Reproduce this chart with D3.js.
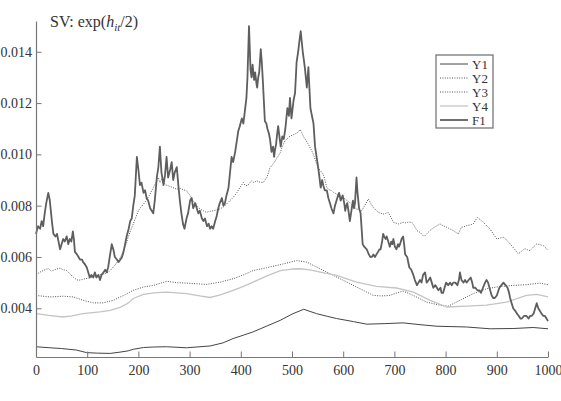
<!DOCTYPE html>
<html>
<head>
<meta charset="utf-8">
<script src="https://cdn.jsdelivr.net/npm/d3@7"></script>
<style>
  body { margin: 0; background: #fff; }
  svg text { font-family: "Liberation Serif", "Times New Roman", serif; fill: #333; }
</style>
</head>
<body>
<div id="chart"></div>
<script>
// series values as [t, value]
var y1Data = [[0,0.00250],[27,0.00246],[50,0.00243],[79,0.00237],[99,0.00227],[120,0.00225],[145,0.00224],[164,0.00229],[180,0.00234],[190,0.00240],[210,0.00247],[230,0.00249],[255,0.00250],[294,0.00246],[340,0.00253],[365,0.00265],[385,0.00282],[405,0.00295],[424,0.00308],[450,0.00330],[477,0.00353],[502,0.00379],[523,0.00396],[548,0.00379],[570,0.00368],[587,0.00360],[620,0.00348],[646,0.00338],[680,0.00340],[717,0.00343],[750,0.00336],[783,0.00330],[841,0.00327],[887,0.00320],[932,0.00321],[971,0.00325],[1000,0.00320]];

var y2Data = [[0,0.00530],[7,0.00540],[14,0.00547],[20,0.00552],[24,0.00555],[30,0.00545],[34,0.00548],[40,0.00553],[47,0.00556],[53,0.00550],[60,0.00547],[66,0.00535],[73,0.00521],[79,0.00512],[83,0.00509],[90,0.00512],[96,0.00515],[103,0.00518],[109,0.00521],[116,0.00525],[122,0.00528],[129,0.00532],[135,0.00535],[141,0.00540],[148,0.00554],[155,0.00570],[161,0.00586],[166,0.00603],[171,0.00625],[176,0.00650],[180,0.00677],[185,0.00705],[190,0.00729],[195,0.00755],[200,0.00780],[205,0.00795],[210,0.00806],[215,0.00820],[219,0.00832],[224,0.00850],[229,0.00870],[234,0.00890],[239,0.00910],[242,0.00890],[246,0.00905],[249,0.00890],[255,0.00880],[262,0.00875],[268,0.00870],[275,0.00864],[281,0.00868],[288,0.00862],[294,0.00858],[301,0.00840],[307,0.00819],[314,0.00800],[320,0.00787],[327,0.00780],[333,0.00774],[340,0.00778],[346,0.00780],[353,0.00784],[359,0.00787],[366,0.00795],[372,0.00806],[379,0.00820],[385,0.00832],[392,0.00850],[398,0.00870],[405,0.00890],[408,0.00880],[413,0.00877],[417,0.00888],[421,0.00897],[426,0.00890],[431,0.00897],[437,0.00892],[444,0.00890],[447,0.00900],[451,0.00910],[457,0.00948],[462,0.00960],[467,0.00974],[472,0.00990],[477,0.01006],[481,0.01030],[486,0.01052],[491,0.01062],[496,0.01071],[501,0.01075],[506,0.01080],[511,0.01085],[516,0.01097],[519,0.01085],[522,0.01071],[527,0.01055],[532,0.01039],[537,0.01020],[542,0.01000],[546,0.00975],[551,0.00948],[556,0.00935],[561,0.00923],[565,0.00895],[568,0.00870],[573,0.00862],[578,0.00858],[582,0.00850],[587,0.00845],[593,0.00840],[600,0.00832],[606,0.00822],[613,0.00812],[619,0.00800],[626,0.00787],[631,0.00784],[636,0.00780],[642,0.00800],[649,0.00826],[654,0.00808],[659,0.00793],[664,0.00782],[669,0.00774],[674,0.00770],[678,0.00767],[683,0.00770],[688,0.00774],[693,0.00755],[698,0.00735],[703,0.00732],[708,0.00729],[713,0.00732],[717,0.00735],[722,0.00733],[728,0.00736],[734,0.00735],[739,0.00720],[744,0.00703],[750,0.00696],[756,0.00683],[760,0.00683],[766,0.00696],[773,0.00709],[780,0.00718],[789,0.00729],[795,0.00722],[802,0.00716],[808,0.00710],[815,0.00703],[820,0.00696],[825,0.00690],[831,0.00716],[836,0.00718],[841,0.00722],[848,0.00725],[854,0.00729],[858,0.00742],[862,0.00754],[868,0.00745],[874,0.00735],[880,0.00722],[887,0.00709],[893,0.00690],[900,0.00670],[907,0.00674],[913,0.00677],[920,0.00665],[926,0.00651],[934,0.00632],[942,0.00612],[948,0.00622],[955,0.00632],[960,0.00628],[965,0.00625],[971,0.00638],[978,0.00651],[984,0.00648],[991,0.00644],[996,0.00635],[1000,0.00625]];

var y3Data = [[0,0.00450],[27,0.00444],[53,0.00447],[73,0.00444],[92,0.00431],[112,0.00421],[131,0.00421],[151,0.00431],[171,0.00450],[190,0.00470],[210,0.00483],[229,0.00489],[255,0.00505],[275,0.00500],[294,0.00498],[333,0.00493],[360,0.00502],[385,0.00515],[405,0.00530],[424,0.00547],[450,0.00558],[477,0.00570],[509,0.00586],[529,0.00580],[555,0.00554],[581,0.00528],[607,0.00502],[633,0.00476],[659,0.00450],[675,0.00448],[691,0.00450],[705,0.00460],[717,0.00467],[737,0.00450],[763,0.00424],[789,0.00412],[805,0.00408],[828,0.00431],[854,0.00457],[880,0.00476],[906,0.00485],[932,0.00489],[958,0.00492],[984,0.00498],[1000,0.00492]];

var y4Data = [[0,0.00379],[25,0.00372],[53,0.00366],[70,0.00370],[92,0.00379],[125,0.00386],[145,0.00392],[164,0.00403],[180,0.00420],[190,0.00438],[210,0.00454],[230,0.00460],[255,0.00463],[294,0.00457],[320,0.00448],[340,0.00442],[360,0.00452],[385,0.00470],[405,0.00485],[424,0.00502],[450,0.00525],[477,0.00547],[500,0.00553],[516,0.00554],[535,0.00550],[555,0.00541],[587,0.00528],[626,0.00502],[665,0.00485],[704,0.00479],[737,0.00463],[770,0.00431],[802,0.00405],[841,0.00408],[880,0.00412],[919,0.00424],[958,0.00450],[978,0.00454],[1000,0.00444]];

var f1Data = [[0,0.0069],[4,0.0072],[8,0.0071],[11,0.0074],[14,0.0072],[17,0.0077],[20,0.0081],[24,0.0085],[27,0.0082],[31,0.0074],[34,0.0069],[38,0.0068],[41,0.0069],[44,0.0066],[47,0.0063],[50,0.0065],[53,0.0067],[56,0.0066],[60,0.0068],[63,0.0065],[66,0.0067],[69,0.0066],[72,0.0070],[74,0.0067],[76,0.0062],[80,0.0061],[83,0.0060],[86,0.0059],[90,0.0059],[92,0.0058],[96,0.0057],[99,0.0056],[102,0.0054],[105,0.0052],[108,0.0053],[112,0.0052],[115,0.0054],[118,0.0052],[122,0.0053],[125,0.0051],[128,0.0053],[132,0.0054],[135,0.0055],[138,0.0054],[141,0.0056],[144,0.0060],[148,0.0065],[151,0.0063],[154,0.0060],[158,0.0059],[161,0.0058],[165,0.0059],[168,0.0060],[171,0.0062],[174,0.0065],[177,0.0068],[181,0.0071],[184,0.0074],[187,0.0075],[190,0.0080],[193,0.0084],[197,0.0099],[200,0.0094],[203,0.0088],[206,0.0089],[210,0.0085],[213,0.0086],[216,0.0083],[219,0.0082],[223,0.0079],[226,0.0078],[229,0.0077],[232,0.0082],[236,0.0091],[239,0.0095],[242,0.0103],[245,0.0093],[249,0.0088],[252,0.0092],[255,0.0099],[258,0.0091],[262,0.0094],[265,0.0097],[268,0.0090],[271,0.0093],[275,0.0095],[278,0.0088],[281,0.0082],[284,0.0077],[287,0.0073],[290,0.0071],[294,0.0075],[297,0.0077],[301,0.0082],[304,0.0083],[307,0.0079],[311,0.0081],[314,0.0079],[317,0.0077],[320,0.0078],[324,0.0075],[327,0.0074],[330,0.0075],[334,0.0072],[337,0.0073],[340,0.0071],[343,0.0072],[346,0.0071],[350,0.0074],[353,0.0076],[356,0.0079],[359,0.0081],[363,0.0083],[366,0.0080],[369,0.0081],[372,0.0084],[376,0.0087],[379,0.0093],[382,0.0099],[385,0.0097],[389,0.0101],[392,0.0105],[395,0.0109],[398,0.0111],[402,0.0114],[405,0.0112],[408,0.0117],[411,0.0122],[413,0.0130],[416,0.0150],[419,0.0133],[421,0.0130],[423,0.0135],[426,0.0129],[428,0.0132],[431,0.0127],[432,0.0126],[434,0.0130],[436,0.0132],[439,0.0141],[441,0.0136],[443,0.0129],[445,0.0121],[447,0.0113],[450,0.0112],[452,0.0110],[455,0.0108],[457,0.0106],[460,0.0101],[463,0.0103],[465,0.0099],[467,0.0102],[469,0.0104],[471,0.0108],[473,0.0111],[476,0.0106],[478,0.0103],[481,0.0107],[484,0.0106],[487,0.0110],[491,0.0118],[494,0.0115],[496,0.0122],[499,0.0114],[503,0.0121],[506,0.0124],[509,0.0136],[512,0.0140],[515,0.0145],[517,0.0148],[519,0.0144],[521,0.0140],[523,0.0137],[525,0.0134],[527,0.0130],[529,0.0126],[532,0.0134],[534,0.0126],[536,0.0118],[538,0.0116],[540,0.0114],[542,0.0112],[545,0.0103],[548,0.0099],[551,0.0095],[553,0.0092],[556,0.0087],[559,0.0090],[561,0.0088],[564,0.0086],[568,0.0086],[571,0.0083],[574,0.0081],[577,0.0079],[581,0.0077],[584,0.0080],[587,0.0082],[590,0.0084],[592,0.0085],[595,0.0082],[599,0.0084],[602,0.0081],[604,0.0078],[606,0.0080],[608,0.0081],[611,0.0077],[613,0.0074],[616,0.0078],[619,0.0082],[621,0.0079],[623,0.0081],[626,0.0091],[628,0.0085],[631,0.0079],[634,0.0077],[636,0.0071],[638,0.0065],[641,0.0064],[646,0.0063],[650,0.0061],[653,0.0060],[656,0.0060],[659,0.0061],[662,0.0060],[665,0.0061],[668,0.0062],[671,0.0063],[673,0.0063],[676,0.0066],[678,0.0069],[680,0.0068],[683,0.0067],[685,0.0068],[688,0.0066],[691,0.0064],[694,0.0066],[696,0.0065],[698,0.0067],[701,0.0064],[704,0.0063],[707,0.0065],[709,0.0064],[711,0.0065],[714,0.0067],[717,0.0068],[719,0.0065],[721,0.0061],[725,0.0060],[729,0.0056],[733,0.0055],[737,0.0053],[740,0.0051],[744,0.0049],[747,0.0050],[750,0.0051],[753,0.0050],[756,0.0053],[760,0.0054],[763,0.0050],[767,0.0051],[770,0.0052],[773,0.0050],[776,0.0048],[780,0.0049],[783,0.0048],[786,0.0047],[790,0.0048],[792,0.0046],[795,0.0046],[798,0.0048],[801,0.0050],[805,0.0049],[809,0.0050],[812,0.0049],[815,0.0050],[819,0.0050],[823,0.0049],[826,0.0051],[828,0.0054],[831,0.0051],[835,0.0050],[838,0.0051],[841,0.0050],[845,0.0051],[849,0.0052],[852,0.0050],[854,0.0048],[858,0.0048],[862,0.0047],[866,0.0047],[869,0.0046],[873,0.0048],[877,0.0050],[880,0.0051],[883,0.0050],[887,0.0047],[890,0.0045],[893,0.0044],[896,0.0044],[900,0.0045],[905,0.0048],[909,0.0049],[913,0.0050],[917,0.0049],[921,0.0048],[924,0.0046],[926,0.0044],[929,0.0042],[932,0.0040],[936,0.0039],[939,0.0038],[943,0.0037],[946,0.0036],[949,0.0036],[953,0.0037],[956,0.0037],[958,0.0037],[962,0.0036],[965,0.0037],[968,0.0037],[972,0.0038],[975,0.0040],[978,0.0042],[981,0.0040],[984,0.0039],[987,0.0038],[991,0.0037],[994,0.0037],[997,0.0036],[1000,0.0035]];

var seriesNames = ["Y1", "Y2", "Y3", "Y4", "F1"];
var xTicks = [0, 100, 200, 300, 400, 500, 600, 700, 800, 900, 1000];
var yTicks = [0.004, 0.006, 0.008, 0.010, 0.012, 0.014];

var w = 561, h = 401;
var serif = "Liberation Serif";
var svg = d3.select("#chart").append("svg").attr("width", w).attr("height", h)
  .attr("font-family", serif);

var x = d3.scaleLinear().domain([0, 1000]).range([36, 548]);
var y = d3.scaleLinear().domain([0.0021, 0.0152]).range([357, 21]);

// styles for each series, same order as seriesNames
var styles = [
  { data: y1Data, stroke: "#444", width: 1, dash: null },
  { data: y2Data, stroke: "#555", width: 1, dash: "1,1.4" },
  { data: y3Data, stroke: "#555", width: 1, dash: "1,1.4" },
  { data: y4Data, stroke: "#c4c4c4", width: 1.3, dash: null },
  { data: f1Data, stroke: "#5e5e5e", width: 1.8, dash: null }
];

var line = d3.line().x(d => x(d[0])).y(d => y(d[1]));

styles.forEach(s => {
  svg.append("path")
    .datum(s.data)
    .attr("d", line)
    .attr("fill", "none")
    .attr("stroke", s.stroke)
    .attr("stroke-width", s.width)
    .attr("stroke-linejoin", "round")
    .attr("stroke-dasharray", s.dash);
});

// axes, ticks pointing inward like the original
var minorX = d3.range(0, 1001, 20).filter(v => v % 100 !== 0);
var minorY = d3.range(24, 153, 4).map(v => v / 10000).filter(v => Math.round(v * 10000) % 20 !== 0);

var axisColor = "#777";

var gx = svg.append("g").attr("transform", "translate(0,357)");
gx.call(d3.axisBottom(x).tickValues(minorX).tickSizeInner(-3).tickSizeOuter(0).tickFormat(""));
gx.call(d3.axisBottom(x).tickValues(xTicks).tickSizeInner(-5.5).tickSizeOuter(0).tickPadding(8).tickFormat(d3.format("d")));

var gy = svg.append("g").attr("transform", "translate(36,0)");
gy.call(d3.axisLeft(y).tickValues(minorY).tickSizeInner(-3).tickSizeOuter(0).tickFormat(""));
gy.call(d3.axisLeft(y).tickValues(yTicks).tickSizeInner(-5.5).tickSizeOuter(0).tickPadding(4).tickFormat(d3.format(".3f")));

svg.selectAll("g").attr("font-family", serif);
svg.selectAll(".domain").attr("stroke", axisColor).attr("stroke-width", 1.2);
svg.selectAll(".tick line").attr("stroke", axisColor);
svg.selectAll(".tick text").attr("font-family", serif).style("font-size", "14px").attr("fill", "#333");

// title
var title = svg.append("text").attr("x", 50).attr("y", 27).attr("font-family", serif).style("font-size", "16px");
title.append("tspan").text("SV: exp(");
title.append("tspan").style("font-style", "italic").text("h");
title.append("tspan").style("font-style", "italic").style("font-size", "11px").attr("dy", 4).text("it");
title.append("tspan").attr("dy", -4).text("/2)");

// legend
var lg = svg.append("g");
lg.append("rect").attr("x", 436).attr("y", 55).attr("width", 57).attr("height", 73)
  .attr("fill", "#fff").attr("stroke", "#777").attr("stroke-width", 1.3);
var rowY = [64, 78, 92, 106, 120];
seriesNames.forEach((name, i) => {
  lg.append("line")
    .attr("x1", 440).attr("x2", 468).attr("y1", rowY[i]).attr("y2", rowY[i])
    .attr("stroke", styles[i].stroke).attr("stroke-width", styles[i].width)
    .attr("stroke-dasharray", styles[i].dash);
  lg.append("text").attr("x", 472).attr("y", rowY[i] + 4.5)
    .attr("font-family", serif).style("font-size", "13px").text(name);
});
</script>
</body>
</html>
